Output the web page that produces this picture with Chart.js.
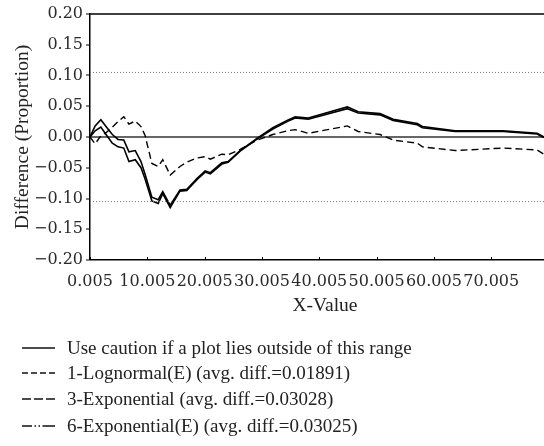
<!DOCTYPE html>
<html>
<head>
<meta charset="utf-8">
<script src="https://cdn.jsdelivr.net/npm/chart.js@4"></script>
<style>
  html, body { margin: 0; padding: 0; background: #fff; overflow: hidden; }
  #wrap { position: relative; width: 544px; height: 446px; overflow: hidden; }
  #plot { position: absolute; left: 0; top: 0; }
  #legend { position: absolute; left: 0; top: 0; width: 544px; height: 446px;
            font-family: "Liberation Serif", serif; font-size: 19px; color: #222; pointer-events: none; }
  .row { position: absolute; left: 22px; height: 24px; display: flex; align-items: center; white-space: nowrap; }
  .row svg { width: 33px; height: 6px; margin-right: 12px; }
</style>
</head>
<body>
<div id="wrap">
  <canvas id="plot" width="560" height="320"></canvas>
  <div id="legend"></div>
</div>
<script>
// x positions shared by all fitted curves
const xValues = [0.005, 0.9, 1.9, 2.8, 3.9, 4.9, 5.9, 6.8, 7.9, 8.9, 9.6, 10.8, 11.9, 12.7, 14.0,
  15.7, 16.9, 18.7, 20.1, 21.0, 23.0, 24.1, 26.2, 29.2, 31.9, 34.4, 35.8, 38.1, 44.9, 46.8,
  50.6, 52.9, 57.1, 58.0, 63.7, 72.1, 78.0, 79.2];

// difference between fitted and empirical proportion
const lognormalE = [0, -0.011, 0.002, 0.007, 0.016, 0.025, 0.033, 0.021, 0.026, 0.017, 0.003,
  -0.043, -0.048, -0.037, -0.062, -0.048, -0.041, -0.034, -0.032, -0.036, -0.028, -0.029,
  -0.020, -0.005, 0.004, 0.010, 0.012, 0.006, 0.018, 0.009, 0.004, -0.005, -0.010, -0.016,
  -0.022, -0.018, -0.021, -0.028];
const exponential3 = [0, 0.018, 0.028, 0.017, 0.004, -0.004, -0.005, -0.024, -0.022, -0.040,
  -0.060, -0.098, -0.102, -0.089, -0.111, -0.086, -0.085, -0.067, -0.055, -0.058, -0.042,
  -0.040, -0.022, -0.002, 0.015, 0.027, 0.033, 0.031, 0.049, 0.041, 0.038, 0.029, 0.022,
  0.017, 0.010, 0.010, 0.006, 0.000];
const exponential6E = [0, 0.010, 0.016, 0.004, -0.010, -0.016, -0.018, -0.040, -0.037, -0.050,
  -0.068, -0.104, -0.108, -0.092, -0.115, -0.088, -0.087, -0.069, -0.057, -0.060, -0.044,
  -0.041, -0.023, -0.003, 0.013, 0.025, 0.031, 0.029, 0.046, 0.039, 0.036, 0.027, 0.020,
  0.015, 0.009, 0.009, 0.005, -0.001];

// caution band
const cautionLimits = [0.105, -0.105];

// axes
const xMin = 0.005, xMax = 82.005;
const xTickValues = [0.005, 10.005, 20.005, 30.005, 40.005, 50.005, 60.005, 70.005];
const yMin = -0.20, yMax = 0.20, yStep = 0.05;

const legendLabels = [
  'Use caution if a plot lies outside of this range',
  '1-Lognormal(E) (avg. diff.=0.01891)',
  '3-Exponential (avg. diff.=0.03028)',
  '6-Exponential(E) (avg. diff.=0.03025)'
];
const legendDashes = ['', '6 3', '9 3', '10 2.5 1.5 2.5 1.5 2.5 13 0'];
const legendRowCenters = [348, 373, 399, 426];

const toPoints = ys => ys.map((y, i) => ({ x: xValues[i], y }));
const flat = v => [{ x: xMin, y: v }, { x: xMax, y: v }];

const lineStyle = { pointRadius: 0, fill: false, tension: 0, borderCapStyle: 'butt' };

const datasets = [
  ...cautionLimits.map(v => ({ ...lineStyle, label: legendLabels[0], data: flat(v),
      borderColor: '#7a7a7a', borderWidth: 1, borderDash: [1, 2] })),
  { ...lineStyle, label: legendLabels[1], data: toPoints(lognormalE),
    borderColor: '#000', borderWidth: 1.4, borderDash: [7, 4] },
  { ...lineStyle, label: legendLabels[2], data: toPoints(exponential3),
    borderColor: '#000', borderWidth: 1.6 },
  { ...lineStyle, label: legendLabels[3], data: toPoints(exponential6E),
    borderColor: '#000', borderWidth: 1.6 }
];

// top frame line and inward x tick marks
const framePlugin = {
  id: 'frame',
  afterDraw(chart) {
    const { ctx, chartArea: a, scales } = chart;
    ctx.save();
    ctx.strokeStyle = '#000';
    ctx.lineWidth = 1.5;
    ctx.beginPath();
    ctx.moveTo(a.left, a.top);
    ctx.lineTo(a.right, a.top);
    ctx.stroke();
    ctx.lineWidth = 1;
    ctx.beginPath();
    scales.x.ticks.forEach(t => {
      const px = Math.round(scales.x.getPixelForValue(t.value)) + 0.5;
      ctx.moveTo(px, a.bottom);
      ctx.lineTo(px, a.bottom - 3);
    });
    ctx.stroke();
    ctx.restore();
  }
};

const tickFont = { family: 'DejaVu Serif', size: 16 };
const titleFont = { family: 'Liberation Serif', size: 19.5 };

new Chart(document.getElementById('plot'), {
  type: 'line',
  data: { datasets },
  plugins: [framePlugin],
  options: {
    responsive: false,
    animation: false,
    devicePixelRatio: 1,
    layout: { padding: { top: 14, left: 0, right: 0, bottom: 0 } },
    plugins: { legend: { display: false }, tooltip: { enabled: false } },
    scales: {
      x: {
        type: 'linear',
        min: xMin,
        max: xMax,
        afterBuildTicks: s => { s.ticks = xTickValues.map(v => ({ value: v })); },
        afterFit: s => { s.height = 60; },
        ticks: {
          autoSkip: false, maxRotation: 0, padding: 12,
          font: tickFont, color: '#2a2a2a',
          callback: v => Number(v).toFixed(3)
        },
        grid: { drawOnChartArea: false, drawTicks: false },
        border: { color: '#000', width: 1.5 },
        title: { display: true, text: 'X-Value', font: titleFont, color: '#222',
                 padding: { top: 0, bottom: 2 } }
      },
      y: {
        min: yMin,
        max: yMax,
        afterFit: s => { s.width = 90; },
        ticks: {
          stepSize: yStep, padding: 3, font: tickFont, color: '#2a2a2a',
          callback: v => Math.abs(v) < 1e-9 ? '0.00' : (v < 0 ? '\u2212' : '') + Math.abs(v).toFixed(2)
        },
        grid: {
          drawOnChartArea: true,
          color: c => (c.tick && Math.abs(c.tick.value) < 1e-9) ? '#666' : 'rgba(0,0,0,0)',
          lineWidth: c => (c.tick && Math.abs(c.tick.value) < 1e-9) ? 2 : 0,
          tickColor: '#000', tickWidth: 1, tickLength: 4
        },
        border: { color: '#000', width: 1.5 },
        title: { display: true, text: 'Difference (Proportion)', font: titleFont, color: '#222',
                 padding: { top: 11, bottom: 0 } }
      }
    }
  }
});

// legend rows below the plot
const legendEl = document.getElementById('legend');
legendLabels.forEach((text, i) => {
  const row = document.createElement('div');
  row.className = 'row';
  row.style.top = (legendRowCenters[i] - 12) + 'px';
  const dash = legendDashes[i] ? ` stroke-dasharray="${legendDashes[i]}"` : '';
  row.innerHTML = `<svg viewBox="0 0 33 6"><line x1="0" y1="3" x2="33" y2="3" stroke="#111" stroke-width="1.3"${dash}/></svg><span>${text}</span>`;
  legendEl.appendChild(row);
});
</script>
</body>
</html>
